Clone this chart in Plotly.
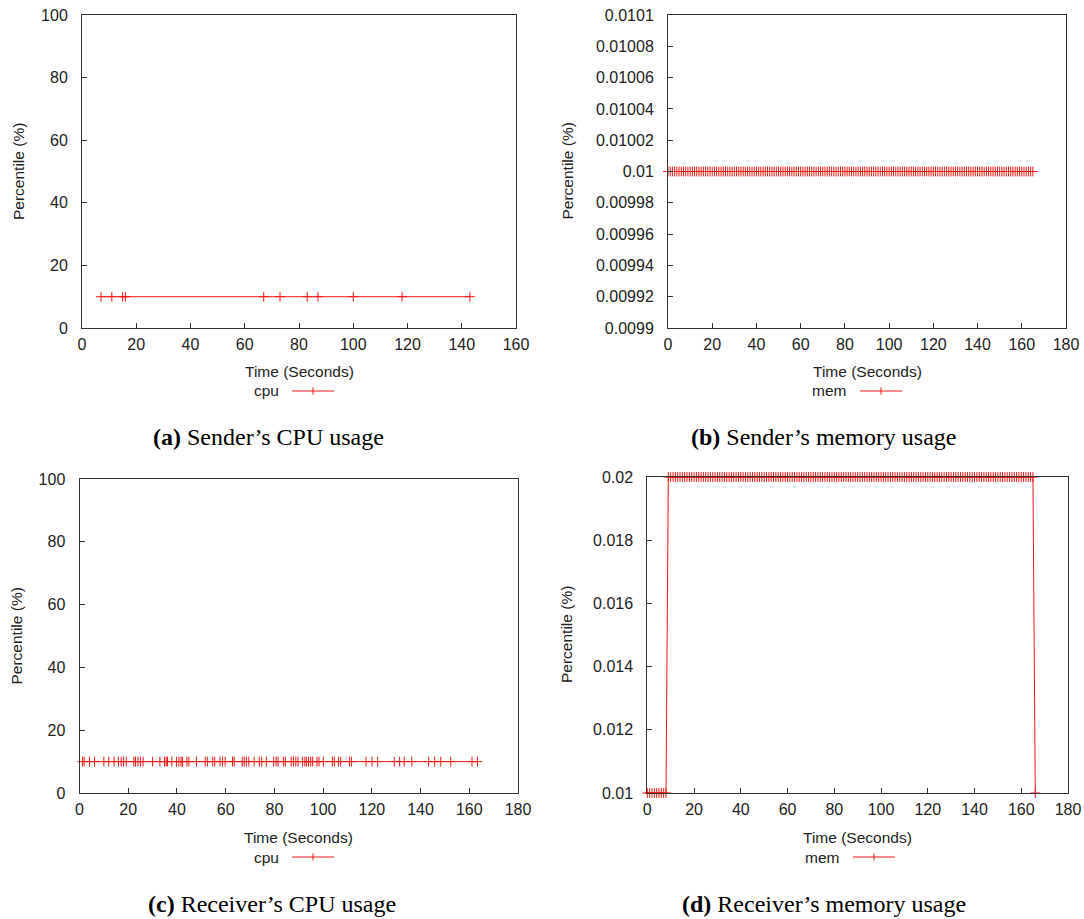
import plotly.graph_objects as go

W, H = 1084, 919

# ---- data ---------------------------------------------------------------
sender_cpu_t = [7, 11, 15, 16, 67, 73, 83, 87, 100, 118, 143]
sender_cpu = [10, 10, 10, 10, 10, 10, 10, 10, 10, 10, 10]

sender_mem_t = [
    0, 1, 2, 3, 4, 5, 6, 7, 8, 9, 10, 11, 12, 13, 14, 15, 16, 17, 18, 19,
    20, 21, 22, 23, 24, 25, 26, 27, 28, 29, 30, 31, 32, 33, 34, 35, 36, 37, 38, 39,
    40, 41, 42, 43, 44, 45, 46, 47, 48, 49, 50, 51, 52, 53, 54, 55, 56, 57, 58, 59,
    60, 61, 62, 63, 64, 65, 66, 67, 68, 69, 70, 71, 72, 73, 74, 75, 76, 77, 78, 79,
    80, 81, 82, 83, 84, 85, 86, 87, 88, 89, 90, 91, 92, 93, 94, 95, 96, 97, 98, 99,
    100, 101, 102, 103, 104, 105, 106, 107, 108, 109, 110, 111, 112, 113, 114, 115,
    116, 117, 118, 119, 120, 121, 122, 123, 124, 125, 126, 127, 128, 129, 130, 131,
    132, 133, 134, 135, 136, 137, 138, 139, 140, 141, 142, 143, 144, 145, 146, 147,
    148, 149, 150, 151, 152, 153, 154, 155, 156, 157, 158, 159, 160, 161, 162, 163,
    164, 165,
]
sender_mem = [0.01 for _ in sender_mem_t]

receiver_cpu_t = [
    1.2, 1.9, 4.1, 6.2, 10.0, 12.0, 14.2, 16.0, 17.1, 18.1, 19.2, 22.3, 23.0,
    24.0, 25.0, 26.1, 30.0, 33.0, 34.9, 35.6, 36.1, 37.9, 39.8, 40.8, 41.7, 42.3,
    44.1, 44.9, 48.0, 51.6, 52.5, 54.7, 55.5, 57.7, 58.7, 59.8, 62.8, 63.5, 66.8,
    67.6, 68.5, 69.5, 71.7, 73.8, 74.8, 76.7, 79.7, 80.7, 81.5, 83.8, 84.5, 86.9,
    87.8, 88.8, 89.7, 91.6, 92.5, 93.1, 94.0, 94.9, 95.7, 97.5, 98.3, 100.1,
    103.8, 104.6, 106.3, 107.2, 110.8, 111.6, 117.6, 120.1, 122.4, 129.2, 131.4,
    133.3, 136.4, 143.3, 145.8, 148.3, 152.4, 161.1, 163.4,
]
receiver_cpu = [10 for _ in receiver_cpu_t]

receiver_mem_t = list(sender_mem_t) + [166]
receiver_mem = (
    [0.01, 0.01, 0.01, 0.01, 0.01, 0.01, 0.01, 0.01, 0.01]
    + [0.02 for _ in range(9, 166)]
    + [0.01]
)

mem_b_ticks = [0.0099, 0.00992, 0.00994, 0.00996, 0.00998, 0.01,
               0.01002, 0.01004, 0.01006, 0.01008, 0.0101]
mem_b_labels = ["0.0099", "0.00992", "0.00994", "0.00996", "0.00998", "0.01",
                "0.01002", "0.01004", "0.01006", "0.01008", "0.0101"]
mem_d_ticks = [0.01, 0.012, 0.014, 0.016, 0.018, 0.02]
mem_d_labels = ["0.01", "0.012", "0.014", "0.016", "0.018", "0.02"]

captions = [
    ("(a)", "Sender\u2019s CPU usage"),
    ("(b)", "Sender\u2019s memory usage"),
    ("(c)", "Receiver\u2019s CPU usage"),
    ("(d)", "Receiver\u2019s memory usage"),
]
legend_names = ["cpu", "mem", "cpu", "mem"]

# ---- styling ------------------------------------------------------------
RED = "#f01818"
AXIS = "#333333"
TEXT = "#222222"
SANS = "Liberation Sans, Arial, sans-serif"
SERIF = "Liberation Serif, Times New Roman, serif"
TICK_SIZE = 16
LABEL_SIZE = 15.5


def px(x):
    return x / W


def py(y):
    return 1 - y / H


# plot-area boxes in pixels: (left, right, top, bottom)
boxes = [
    (82, 516, 15, 328),
    (668, 1066, 15, 328),
    (79.5, 518, 479, 793),
    (647.3, 1068, 477, 793),
]

series = [
    (sender_cpu_t, sender_cpu),
    (sender_mem_t, sender_mem),
    (receiver_cpu_t, receiver_cpu),
    (receiver_mem_t, receiver_mem),
]

fig = go.Figure()
layout = dict(
    width=W, height=H,
    margin=dict(l=0, r=0, t=0, b=0, pad=0, autoexpand=False),
    paper_bgcolor="white", plot_bgcolor="white", showlegend=False,
    font=dict(family=SANS, size=LABEL_SIZE, color=TEXT),
)

for i, ((t, v), box) in enumerate(zip(series, boxes)):
    n = "" if i == 0 else str(i + 1)
    l, r, tp, bt = box
    fig.add_trace(go.Scatter(
        x=t, y=v, mode="lines+markers", name=legend_names[i],
        xaxis="x" + n, yaxis="y" + n, cliponaxis=False,
        line=dict(color=RED, width=1),
        marker=dict(symbol="cross-thin", size=7,
                    line=dict(color=RED, width=1), color=RED),
    ))
    xa = dict(
        domain=[px(l), px(r)], anchor="y" + n, automargin=False,
        range=[0, 160] if i == 0 else [0, 180], dtick=20, tick0=0,
        showgrid=False, zeroline=False, showline=True, mirror=True,
        linecolor=AXIS, linewidth=1, ticks="inside", ticklen=5,
        tickcolor=AXIS, ticklabelstandoff=2,
        tickfont=dict(family=SANS, size=TICK_SIZE, color=TEXT),
    )
    ya = dict(
        domain=[py(bt), py(tp)], anchor="x" + n, automargin=False,
        showgrid=False, zeroline=False, showline=True, mirror=True,
        linecolor=AXIS, linewidth=1, ticks="inside", ticklen=5,
        tickcolor=AXIS, ticklabelstandoff=10,
        tickfont=dict(family=SANS, size=TICK_SIZE, color=TEXT),
    )
    if i in (0, 2):
        ya.update(range=[0, 100], dtick=20, tick0=0)
    elif i == 1:
        ya.update(range=[0.0099, 0.0101], tickmode="array",
                  tickvals=mem_b_ticks, ticktext=mem_b_labels)
    else:
        ya.update(range=[0.01, 0.02], tickmode="array",
                  tickvals=mem_d_ticks, ticktext=mem_d_labels)
    layout["xaxis" + n] = xa
    layout["yaxis" + n] = ya

fig.update_layout(**layout)

# ---- axis titles, legend keys and captions ------------------------------
ann = []
shapes = []
ytitle_x = [18.5, 567, 15.5, 566]
legend_text_right = [281, 848, 281, 841]
legend_line = [(292, 334), (860, 902), (292, 334), (853, 895)]
caption_x = [268.5, 823.5, 272, 823.5]
for i, (l, r, tp, bt) in enumerate(boxes):
    row_top = i < 2
    ann.append(dict(
        x=px((l + r) / 2), y=py(371 if row_top else 837),
        xref="paper", yref="paper", text="Time (Seconds)", showarrow=False,
        font=dict(family=SANS, size=LABEL_SIZE, color=TEXT),
        xanchor="center", yanchor="middle",
    ))
    ann.append(dict(
        x=px(ytitle_x[i]), y=py((tp + bt) / 2),
        xref="paper", yref="paper", text="Percentile (%)", showarrow=False,
        textangle=-90, font=dict(family=SANS, size=LABEL_SIZE, color=TEXT),
        xanchor="center", yanchor="middle",
    ))
    ly = 391 if row_top else 857
    ann.append(dict(
        x=px(legend_text_right[i]), y=py(ly),
        xref="paper", yref="paper", text=legend_names[i], showarrow=False,
        font=dict(family=SANS, size=LABEL_SIZE, color=TEXT),
        xanchor="right", yanchor="middle",
    ))
    x0, x1 = legend_line[i]
    shapes.append(dict(type="line", xref="paper", yref="paper",
                       x0=px(x0), x1=px(x1), y0=py(ly), y1=py(ly),
                       line=dict(color=RED, width=1)))
    xm = (x0 + x1) / 2
    shapes.append(dict(type="line", xref="paper", yref="paper",
                       x0=px(xm), x1=px(xm), y0=py(ly - 3.5), y1=py(ly + 3.5),
                       line=dict(color=RED, width=1)))
    tag, words = captions[i]
    ann.append(dict(
        x=px(caption_x[i]), y=py(437 if row_top else 904),
        xref="paper", yref="paper", text="<b>" + tag + "</b> " + words,
        showarrow=False, font=dict(family=SERIF, size=24, color="black"),
        xanchor="center", yanchor="middle",
    ))

fig.update_layout(annotations=ann, shapes=shapes)
fig.write_html("out.html")
